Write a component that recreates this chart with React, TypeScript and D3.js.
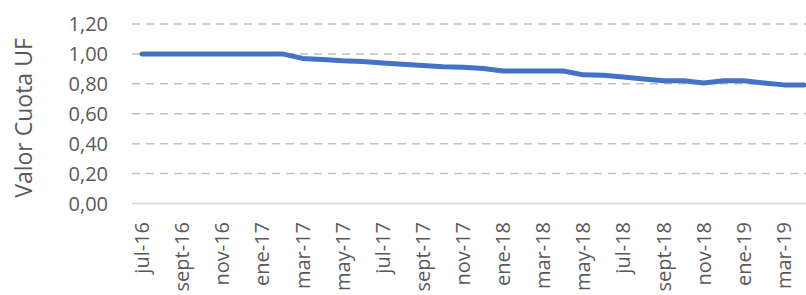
import React from "react";
import * as d3 from "d3";

const months: string[] = [
  "jul-16","ago-16","sept-16","oct-16","nov-16","dic-16",
  "ene-17","feb-17","mar-17","abr-17","may-17","jun-17","jul-17","ago-17","sept-17","oct-17","nov-17","dic-17",
  "ene-18","feb-18","mar-18","abr-18","may-18","jun-18","jul-18","ago-18","sept-18","oct-18","nov-18","dic-18",
  "ene-19","feb-19","mar-19","abr-19",
];
const values: number[] = [
  1.0, 1.0, 1.0, 1.0, 1.0, 1.0,
  1.0, 1.0, 0.97, 0.963, 0.955, 0.95, 0.94, 0.931, 0.923, 0.915, 0.911, 0.902,
  0.886, 0.886, 0.886, 0.886, 0.86, 0.857, 0.846, 0.833, 0.82, 0.82, 0.805, 0.82,
  0.82, 0.806, 0.793, 0.793,
];
const yTicks: number[] = [0, 0.2, 0.4, 0.6, 0.8, 1.0, 1.2];
const yTitle = "Valor Cuota UF";

const W = 806;
const H = 295;
const left = 132;
const bandW = 20.06;
const top = 24;
const bottom = 203.5;
const font = "'Open Sans', 'Noto Sans', sans-serif";
const textColor = "#595959";

export default function App() {
  const x = d3
    .scaleBand<string>()
    .domain(months)
    .range([left, left + bandW * months.length])
    .paddingInner(0)
    .paddingOuter(0);
  const y = d3.scaleLinear().domain([0, 1.2]).range([bottom, top]);
  const cx = (m: string) => (x(m) as number) + x.bandwidth() / 2;
  const line = d3
    .line<number>()
    .x((_, i) => cx(months[i]))
    .y((d) => y(d))
    .curve(d3.curveLinear);
  const fmt = (v: number) => v.toFixed(2).replace(".", ",");

  return (
    <svg
      width={W}
      height={H}
      style={{ position: "absolute", left: 0, top: 0, background: "#fff" }}
    >
      {yTicks.map((t) =>
        t === 0 ? null : (
          <line
            key={"g" + t}
            x1={left}
            x2={W}
            y1={y(t)}
            y2={y(t)}
            stroke="#bfbfbf"
            strokeWidth={1.5}
            strokeDasharray="8,6"
          />
        )
      )}
      <line x1={left} x2={W} y1={y(0)} y2={y(0)} stroke="#d9d9d9" strokeWidth={1.5} />
      {yTicks.map((t) => (
        <text
          key={"t" + t}
          x={108}
          y={y(t)}
          dy="0.35em"
          textAnchor="end"
          fontFamily={font}
          fontSize={20}
          fill={textColor}
        >
          {fmt(t)}
        </text>
      ))}
      {months.map((m, i) =>
        i % 2 === 0 ? (
          <text
            key={"x" + m}
            transform={`translate(${cx(m)},222) rotate(-90)`}
            dy="0.35em"
            textAnchor="end"
            fontFamily={font}
            fontSize={20}
            fill={textColor}
          >
            {m}
          </text>
        ) : null
      )}
      <text
        transform={`translate(32,118) rotate(-90)`}
        textAnchor="middle"
        fontFamily={font}
        fontSize={23}
        fill={textColor}
      >
        {yTitle}
      </text>
      <path
        d={line(values) || ""}
        fill="none"
        stroke="#4472C4"
        strokeWidth={5}
        strokeLinecap="round"
        strokeLinejoin="round"
      />
    </svg>
  );
}
